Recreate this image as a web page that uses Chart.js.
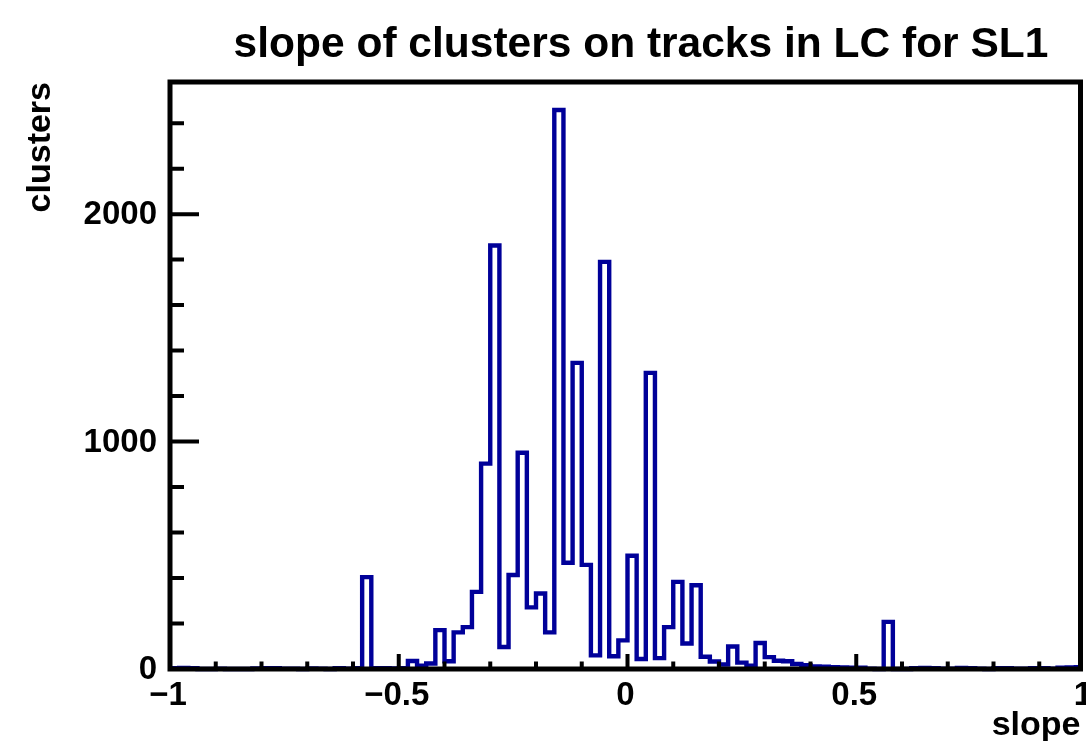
<!DOCTYPE html>
<html>
<head>
<meta charset="utf-8">
<script src="https://cdn.jsdelivr.net/npm/chart.js@4.4.1/dist/chart.umd.min.js"></script>
<style>
  html, body { margin: 0; padding: 0; background: #fff; }
  #wrap { width: 1086px; height: 741px; }
</style>
</head>
<body>
<div id="wrap"><canvas id="histChart" width="1086" height="741"></canvas></div>
<script>
// histogram: 100 bins from -1 to 1
const titleText = 'slope of clusters on tracks in LC for SL1';
const xTitle = 'slope';
const yTitle = 'clusters';
const xMin = -1;
const xMax = 1;
const binWidth = 0.02;
const yMax = 2581;

const counts = [
    4, 5, 3, 0, 0, 1, 0, 0, 0, 2,
    3, 4, 1, 1, 0, 2, 1, 0, 3, 1,
    4, 404, 3, 4, 2, 3, 35, 14, 24, 171,
    34, 161, 184, 339, 903, 1862, 97, 413, 951, 271,
    332, 161, 2458, 467, 1346, 458, 60, 1790, 56, 126,
    498, 44, 1302, 48, 184, 383, 112, 368, 54, 33,
    20, 99, 28, 15, 114, 52, 36, 34, 22, 17,
    11, 10, 8, 7, 6, 6, 1, 0, 207, 0,
    0, 4, 5, 4, 1, 1, 5, 4, 1, 0,
    3, 4, 1, 1, 4, 3, 1, 6, 7, 8
];

const xMajorTicks = [-1, -0.5, 0, 0.5, 1];
const xTickLabels = ['\u22121', '\u22120.5', '0', '0.5', '1'];
const xMinorTicks = [-0.9, -0.8, -0.7, -0.6, -0.4, -0.3, -0.2, -0.1, 0.1, 0.2, 0.3, 0.4, 0.6, 0.7, 0.8, 0.9];
const yMajorTicks = [0, 1000, 2000];
const yTickLabels = ['0', '1000', '2000'];
const yMinorTicks = [200, 400, 600, 800, 1200, 1400, 1600, 1800, 2200, 2400];

const lineColor = '#000099';
const fontFamily = "'Liberation Sans', Arial, Helvetica, sans-serif";
const frameRight = 1080.5;   // the box stops a little short of the x=1 end of the axis

// step outline: each bin's low edge carries its count, last point closes the top bin
const points = counts.map((c, i) => ({ x: xMin + i * binWidth, y: c }));
points.push({ x: xMax, y: counts[counts.length - 1] });

// ROOT-like frame, inward ticks and labels
const rootFrame = {
    id: 'rootFrame',
    afterDatasetsDraw(chart) {
        const { ctx, chartArea: a, scales: { x, y } } = chart;
        ctx.save();
        ctx.strokeStyle = '#000';
        ctx.lineCap = 'butt';

        ctx.lineWidth = 4;
        ctx.beginPath();
        xMajorTicks.forEach(v => {
            const px = x.getPixelForValue(v);
            if (px > frameRight) return;
            ctx.moveTo(px, a.bottom);
            ctx.lineTo(px, a.bottom - 15);
        });
        xMinorTicks.forEach(v => {
            const px = x.getPixelForValue(v);
            ctx.moveTo(px, a.bottom);
            ctx.lineTo(px, a.bottom - 7.5);
        });
        yMajorTicks.forEach(v => {
            const py = y.getPixelForValue(v);
            ctx.moveTo(a.left, py);
            ctx.lineTo(a.left + 29, py);
        });
        yMinorTicks.forEach(v => {
            const py = y.getPixelForValue(v);
            ctx.moveTo(a.left, py);
            ctx.lineTo(a.left + 14, py);
        });
        ctx.stroke();

        ctx.lineWidth = 5;
        ctx.strokeRect(a.left, a.top, frameRight - a.left, a.bottom - a.top);

        ctx.fillStyle = '#000';
        ctx.font = 'bold 33px ' + fontFamily;
        ctx.textAlign = 'right';
        ctx.textBaseline = 'middle';
        yMajorTicks.forEach((v, i) => {
            ctx.fillText(yTickLabels[i], a.left - 13, y.getPixelForValue(v) + 1);
        });
        ctx.textAlign = 'center';
        ctx.textBaseline = 'alphabetic';
        xMajorTicks.forEach((v, i) => {
            ctx.fillText(xTickLabels[i], x.getPixelForValue(v) - 2, a.bottom + 36);
        });

        ctx.font = 'bold 34px ' + fontFamily;
        ctx.textAlign = 'right';
        ctx.fillText(xTitle, frameRight, 735);

        ctx.save();
        ctx.translate(50, a.top);
        ctx.rotate(-Math.PI / 2);
        ctx.textAlign = 'right';
        ctx.fillText(yTitle, 0, 0);
        ctx.restore();

        ctx.font = 'bold 42.5px ' + fontFamily;
        ctx.textAlign = 'center';
        ctx.fillText(titleText, 641, 57);
        ctx.restore();
    }
};

new Chart(document.getElementById('histChart'), {
    type: 'line',
    data: {
        datasets: [{
            data: points,
            stepped: 'before',
            borderColor: lineColor,
            borderWidth: 4.4,
            borderJoinStyle: 'miter',
            pointRadius: 0,
            fill: false,
            tension: 0,
            clip: { left: 2, top: 3, right: -3, bottom: 3 }
        }]
    },
    options: {
        responsive: false,
        animation: false,
        devicePixelRatio: 1,
        layout: { padding: { left: 170, right: 1, top: 82, bottom: 72 } },
        scales: {
            x: { type: 'linear', min: xMin, max: xMax, display: false },
            y: { type: 'linear', min: 0, max: yMax, display: false }
        },
        plugins: {
            legend: { display: false },
            tooltip: { enabled: false },
            title: { display: false }
        }
    },
    plugins: [rootFrame]
});
</script>
</body>
</html>
